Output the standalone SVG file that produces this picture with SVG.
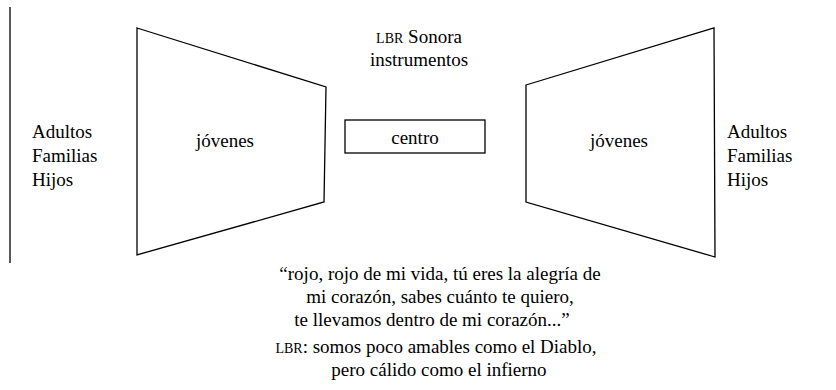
<svg xmlns="http://www.w3.org/2000/svg" width="836" height="390" viewBox="0 0 836 390">
<style>
  text { font-family: 'Liberation Serif', 'Times New Roman', serif; font-size: 19px; fill: #000; }
  .m { text-anchor: middle; }
  .sc { font-size: 14px; }
  .shape { fill: #fff; stroke: #000; stroke-width: 1.3; }
</style>
<rect width="836" height="390" fill="#fff"/>
<g id="connectors">
  <line x1="10" y1="7" x2="10" y2="263" stroke="#000" stroke-width="1.3"/>
</g>
<g id="left-labels">
  <text x="32" y="138">Adultos</text>
  <text x="32" y="162">Familias</text>
  <text x="32" y="186">Hijos</text>
</g>
<g id="left-jovenes">
  <polygon class="shape" points="137,28 326,87 324,202 137,255"/>
  <text class="m" x="225" y="147">jóvenes</text>
</g>
<g id="sonora">
  <text class="m" x="419" y="43"><tspan class="sc">LBR</tspan> Sonora</text>
  <text class="m" x="419" y="66">instrumentos</text>
</g>
<g id="centro">
  <rect class="shape" x="345" y="120" width="140" height="33"/>
  <text class="m" x="415" y="144">centro</text>
</g>
<g id="right-jovenes">
  <polygon class="shape" points="526,85 714,28 715,257 526,202"/>
  <text class="m" x="619" y="147">jóvenes</text>
</g>
<g id="right-labels">
  <text x="727" y="138">Adultos</text>
  <text x="727" y="162">Familias</text>
  <text x="727" y="186">Hijos</text>
</g>
<g id="quote">
  <text class="m" x="440" y="280">“rojo, rojo de mi vida, tú eres la alegría de</text>
  <text class="m" x="440" y="303">mi corazón, sabes cuánto te quiero,</text>
  <text class="m" x="432" y="326">te llevamos dentro de mi corazón...”</text>
  <text class="m" x="436" y="353"><tspan class="sc">LBR</tspan>: somos poco amables como el Diablo,</text>
  <text class="m" x="439" y="376">pero cálido como el infierno</text>
</g>
</svg>
